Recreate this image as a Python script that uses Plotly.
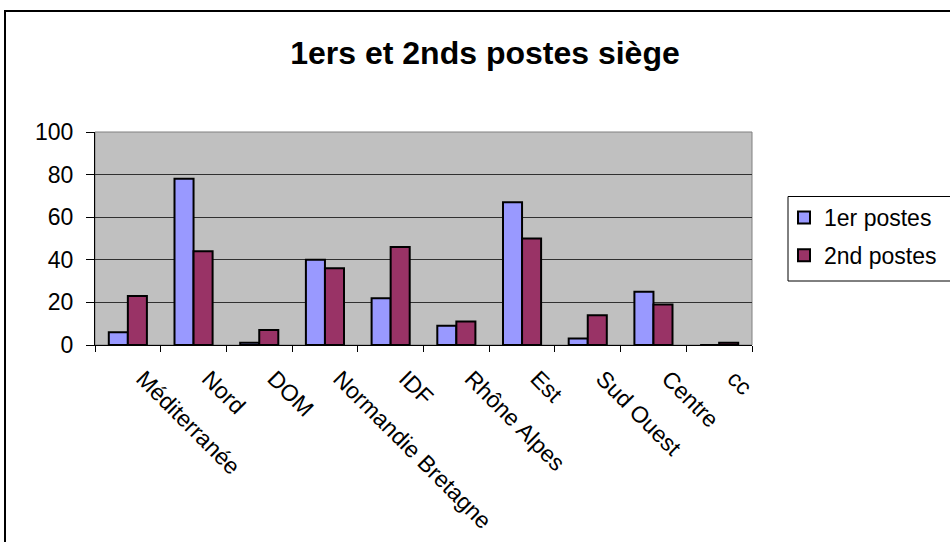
import plotly.graph_objects as go

categories = ["Méditerranée", "Nord", "DOM", "Normandie Bretagne", "IDF",
              "Rhône Alpes", "Est", "Sud Ouest", "Centre", "cc"]
premiers = [6, 78, 1, 40, 22, 9, 67, 3, 25, 0]
seconds = [23, 44, 7, 36, 46, 11, 50, 14, 19, 1]
yticks = [0, 20, 40, 60, 80, 100]

FONT = "Liberation Sans, Arial, sans-serif"

fig = go.Figure()
fig.add_trace(go.Bar(x=categories, y=premiers, name="1er postes",
                     marker=dict(color="#9999FF", line=dict(color="black", width=2)),
                     legendgroup="a"))
fig.add_trace(go.Bar(x=categories, y=seconds, name="2nd postes",
                     marker=dict(color="#993366", line=dict(color="black", width=2)),
                     legendgroup="b"))

L, R, T, B = 95, 198, 132, 197
W, H = 950, 542
pw, ph = W - L - R, H - T - B


def px_x(x):
    return (x - L) / pw


def px_y(y):
    return (H - B - y) / ph


fig.update_layout(
    width=W, height=H,
    margin=dict(l=L, r=R, t=T, b=B, autoexpand=False),
    paper_bgcolor="white",
    plot_bgcolor="#C0C0C0",
    font=dict(family=FONT, color="black", size=20),
    title=dict(text="<b>1ers et 2nds postes siège</b>", x=485 / W, xanchor="center",
               y=1 - 53 / H, yanchor="middle", yref="container",
               font=dict(size=32, family=FONT, color="black")),
    barmode="group",
    bargap=0.42,
    bargroupgap=0,
    showlegend=True,
    legend=dict(x=px_x(784), xanchor="left", y=px_y(196), yanchor="top",
                bgcolor="rgba(0,0,0,0)", borderwidth=0,
                font=dict(size=23, family=FONT), tracegroupgap=5,
                itemwidth=30),
    xaxis=dict(type="category", tickangle=45, tickson="boundaries",
               ticks="outside", ticklen=6, tickcolor="black",
               showline=True, linecolor="black", linewidth=1,
               ticklabelstandoff=10, ticklabelshift=15,
               showgrid=False, tickfont=dict(size=23, family=FONT)),
    yaxis=dict(range=[0, 100], tickvals=yticks, ticks="outside", ticklen=8,
               tickcolor="black", showline=True, linecolor="black", linewidth=1,
               ticklabelstandoff=8,
               showgrid=True, gridcolor="#303030", gridwidth=1, zeroline=False,
               tickfont=dict(size=23, family=FONT)),
    shapes=[
        dict(type="rect", xref="paper", yref="paper", x0=0, x1=1, y0=0, y1=1,
             line=dict(color="#808080", width=1), layer="below"),
        dict(type="rect", xref="paper", yref="paper",
             x0=px_x(5), x1=px_x(W + 10), y0=px_y(H + 10), y1=px_y(11),
             line=dict(color="black", width=2)),
        dict(type="rect", xref="paper", yref="paper",
             x0=px_x(788), x1=px_x(W + 10), y0=px_y(281), y1=px_y(196.5),
             fillcolor="white", line=dict(color="black", width=1)),
    ],
)

fig.write_html("out.html", config={"displayModeBar": False},
               post_script="document.body.style.margin='0';")
